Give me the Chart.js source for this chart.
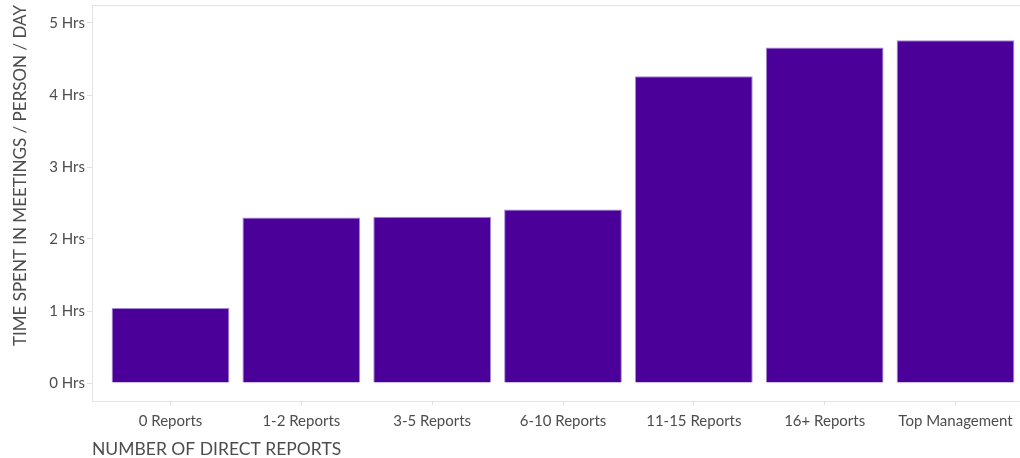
<!DOCTYPE html>
<html>
<head>
<meta charset="utf-8">
<script src="https://cdn.jsdelivr.net/npm/chart.js@4/dist/chart.umd.min.js"></script>
<style>
  html, body { margin: 0; padding: 0; background: #fff; overflow: hidden; width: 1020px; height: 458px; }
  #wrap { width: 1034px; height: 458px; position: relative; }
</style>
</head>
<body>
<div id="wrap"><canvas id="c" width="1034" height="458"></canvas></div>
<script>
const categories = ['0 Reports', '1-2 Reports', '3-5 Reports', '6-10 Reports', '11-15 Reports', '16+ Reports', 'Top Management'];
const hoursPerDay = [1.04, 2.30, 2.31, 2.41, 4.26, 4.66, 4.76];
const yTickValues = [0, 1, 2, 3, 4, 5];
const yTickSuffix = ' Hrs';
const xTitle = 'NUMBER OF DIRECT REPORTS';
const yTitle = 'TIME SPENT IN MEETINGS / PERSON / DAY';

const textColor = '#4d4d4d';
const lineColor = '#e3e3e3';

const panelBorder = {
  id: 'panelBorder',
  afterDraw(chart) {
    const a = chart.chartArea, ctx = chart.ctx;
    ctx.save();
    ctx.strokeStyle = lineColor;
    ctx.lineWidth = 1;
    ctx.strokeRect(a.left + 0.5, a.top + 0.5, a.right - a.left, a.bottom - a.top);
    ctx.restore();
  }
};

function zeroPad(scale) {
  scale.paddingTop = 0; scale.paddingBottom = 0;
  scale.paddingLeft = 0; scale.paddingRight = 0;
}

new Chart(document.getElementById('c'), {
  type: 'bar',
  data: {
    datasets: [{
      data: categories.map((c, i) => ({ x: i, y: hoursPerDay[i] })),
      backgroundColor: '#4b0099',
      borderColor: '#a58bd6',
      borderWidth: 1,
      barPercentage: 0.9,
      categoryPercentage: 1.0
    }]
  },
  plugins: [panelBorder],
  options: {
    responsive: false,
    animation: false,
    layout: { padding: { top: 5, right: 0, left: 0, bottom: 0 } },
    plugins: { legend: { display: false }, tooltip: { enabled: false } },
    scales: {
      x: {
        type: 'linear',
        offset: false,
        min: -0.6,
        max: 6.6,
        afterBuildTicks(scale) { scale.ticks = categories.map((c, i) => ({ value: i })); },
        afterFit(scale) { scale.height = 57; zeroPad(scale); },
        grid: { offset: false, drawOnChartArea: false, drawTicks: true, tickLength: 4, color: lineColor },
        border: { display: true, color: lineColor },
        ticks: {
          autoSkip: false,
          maxRotation: 0,
          padding: 7,
          color: textColor,
          font: { family: 'Lato', size: 15 },
          callback: (v) => categories[v]
        },
        title: {
          display: true,
          text: xTitle,
          align: 'start',
          color: textColor,
          font: { family: 'Lato', size: 17.5, lineHeight: 1.0 },
          padding: { top: 0, bottom: 0 }
        }
      },
      y: {
        min: -0.25,
        max: 5.25,
        afterBuildTicks(scale) { scale.ticks = yTickValues.map(v => ({ value: v })); },
        afterFit(scale) { scale.width = 92; zeroPad(scale); },
        grid: { drawOnChartArea: false, drawTicks: true, tickLength: 5, color: lineColor },
        border: { display: true, color: lineColor },
        ticks: {
          padding: 2,
          color: textColor,
          font: { family: 'Lato', size: 15 },
          callback: (v) => v + yTickSuffix
        },
        title: {
          display: true,
          text: yTitle,
          align: 'end',
          color: textColor,
          font: { family: 'Lato', size: 17 },
          padding: { top: 10, bottom: 0 }
        }
      }
    }
  }
});
</script>
</body>
</html>
